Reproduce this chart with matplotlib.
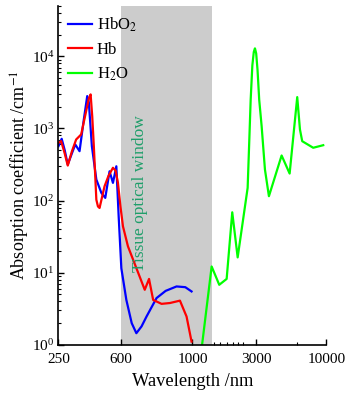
import numpy as np
import matplotlib
matplotlib.use("Agg")
import matplotlib.pyplot as plt
from matplotlib.ticker import FixedLocator, LogLocator, NullFormatter, LogFormatterMathtext

plt.rcParams['font.family'] = ['Liberation Serif', 'DejaVu Serif']
plt.rcParams['mathtext.fontset'] = 'stix'

# ---- data ----
hbo2_wl = [250, 268, 285, 302, 325, 344, 368, 392, 411, 420, 437, 462, 490, 512, 536, 555, 574, 587,
           602, 630, 660, 686, 715, 743, 799, 850, 911, 960, 995]
hbo2_val = [568, 719, 500, 316, 450, 600, 484, 1333, 2810, 2300, 568, 196, 128, 109, 255, 176, 299, 60.5,
            11.5, 4.2, 2.0, 1.45, 1.8, 2.47, 4.45, 5.6, 6.45, 6.3, 5.5]

hb_wl = [250, 265, 285, 302, 325, 349, 377, 405, 420, 430, 439, 448, 462, 471, 480, 508, 530, 555, 570,
         583, 597, 611, 639, 686, 733, 757, 780, 827, 874, 930, 967, 995]
hb_val = [632, 667, 450, 306, 480, 703, 826, 1740, 2600, 2967, 1480, 568, 103, 83, 79, 158, 220, 285, 260,
          176, 83, 44, 23.2, 11.6, 5.8, 8.2, 4.2, 3.7, 3.8, 4.1, 2.47, 1.11]

h2o_wl = [1180, 1391, 1585, 1800, 1982, 2175, 2582, 2650, 2720, 2800, 2870, 2928, 2990, 3060, 3150,
          3284, 3476, 3722, 4630, 5314, 6055, 6345, 6597, 7968, 9465]
h2o_val = [1.0, 12.2, 6.8, 8.2, 68.8, 16.3, 150, 600, 2500, 7500, 11500, 12900, 11000, 6500, 2500,
           1077, 270, 115, 422, 237, 2722, 968, 666, 540, 586]

xticks = [250, 600, 1000, 3000, 10000]
xtick_labels = ['250', '600', '1000', '3000', '10000']
window = (600, 1400)


# ---- piecewise x scale: linear 250-1000, log 1000-10000 ----
def fwd(x):
    x = np.asarray(x, dtype=float)
    return np.where(x <= 1000, (x - 250.0) / 750.0,
                    1.0 + np.log10(np.maximum(x, 1000.0) / 1000.0))


def inv(u):
    u = np.asarray(u, dtype=float)
    return np.where(u <= 1, 250.0 + 750.0 * u, 1000.0 * 10 ** (np.maximum(u, 1) - 1.0))


fig = plt.figure(figsize=(3.48, 3.95), dpi=100)
ax = fig.add_axes([0.168, 0.127, 0.770, 0.858])
ax.set_xscale('function', functions=(fwd, inv))
ax.set_yscale('log')

ax.axvspan(window[0], window[1], color='#cccccc', lw=0, zorder=0)

ax.plot(hbo2_wl, hbo2_val, color='#0000ff', lw=1.6, label='HbO$_2$')
ax.plot(hb_wl, hb_val, color='#ff0000', lw=1.6, label='Hb')
ax.plot(h2o_wl, h2o_val, color='#00ff00', lw=1.6, label='H$_2$O')

ax.set_xlim(250, 10000)
ax.set_ylim(1, 5e4)

ax.xaxis.set_major_locator(FixedLocator(xticks))
ax.set_xticklabels(xtick_labels)
ax.xaxis.set_minor_locator(FixedLocator([1450, 1600, 1800, 2000, 2200, 2400, 6000]))
ax.xaxis.set_minor_formatter(NullFormatter())

ax.yaxis.set_major_locator(LogLocator(base=10, numticks=10))
ax.yaxis.set_major_formatter(LogFormatterMathtext())
ax.yaxis.set_minor_locator(LogLocator(base=10, subs=np.arange(2, 10), numticks=20))
ax.yaxis.set_minor_formatter(NullFormatter())

ax.tick_params(axis='both', which='major', direction='in', length=4, width=1, labelsize=11)
ax.tick_params(axis='x', which='major', pad=6)
ax.tick_params(axis='y', which='major', pad=3)
ax.tick_params(axis='both', which='minor', direction='in', length=2, width=0.8)

for s in ['top', 'right']:
    ax.spines[s].set_visible(False)
for s in ['left', 'bottom']:
    ax.spines[s].set_linewidth(1.2)

ax.set_xlabel('Wavelength /nm', fontsize=13.3, labelpad=5)
ax.set_ylabel('Absorption coefficient /cm$^{-1}$', fontsize=13, labelpad=0)

ax.text(705, 125, 'Tissue optical window', rotation=90, color='#1f9e6a', fontsize=12.5,
        ha='center', va='center')

leg = ax.legend(loc='upper left', frameon=False, fontsize=12, handlelength=1.45,
                labelspacing=0.45, borderaxespad=0.0, handletextpad=0.3,
                bbox_to_anchor=(0.01, 0.99))

fig.savefig('out.png', dpi=100)
